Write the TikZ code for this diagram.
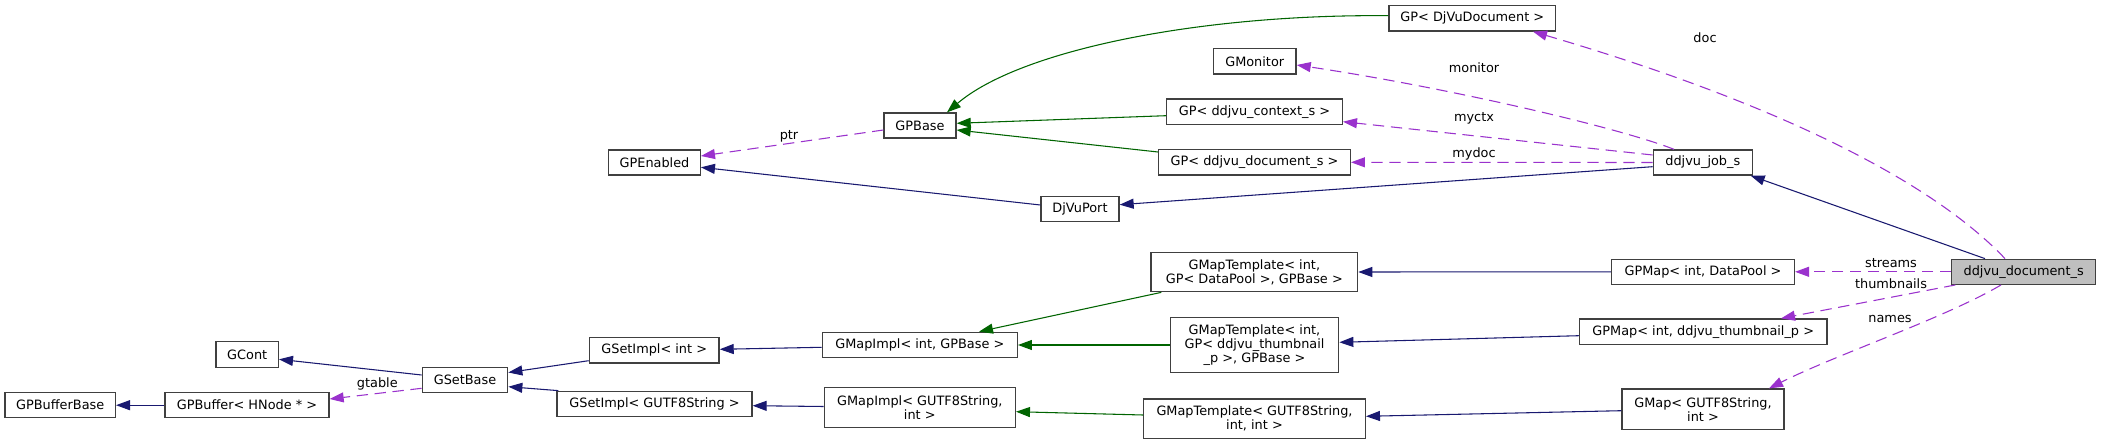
\documentclass[tikz,border=0pt]{standalone}
\usepackage{fontspec}
\setmainfont{DejaVu Sans}
\usetikzlibrary{arrows.meta,calc}
\definecolor{navy}{RGB}{25,25,112}
\definecolor{dgreen}{RGB}{0,100,0}
\definecolor{orchid}{RGB}{154,50,205}
\definecolor{boxc}{RGB}{64,64,64}
\definecolor{selfill}{RGB}{191,191,191}
\begin{document}
\begin{tikzpicture}[x=0.75pt,y=-0.75pt,
  box/.style={draw=boxc, fill=white, line width=1pt, inner sep=0pt, align=center,
    font=\fontsize{9.65}{10.6}\selectfont},
  bw/.style={minimum width=#1*0.75pt},
  bh/.style={minimum height=#1*0.75pt},
  tip/.style={-{Triangle[length=10.5pt,width=7.5pt]}},
  pub/.style={draw=navy, line width=0.8pt, tip},
  prot/.style={draw=dgreen, line width=0.8pt, tip},
  use/.style={draw=orchid, line width=0.8pt, dash pattern=on 8.5pt off 5pt, tip},
  lbl/.style={font=\fontsize{9.65}{10.6}\selectfont, inner sep=0pt}]
\useasboundingbox (0,0) rectangle (2101,445);
\fill[white] (0,0) rectangle (2101,445);

% nodes
\node[box,bw=166.7,bh=25.3] (gpdjvu) at (1472.3,18.3) {GP< DjVuDocument >};
\node[box,bw=82.7,bh=25.3] (gmonitor) at (1254.7,61.3) {GMonitor};
\node[box,bw=175.6,bh=25.3] (gpctx) at (1254.5,111.7) {GP< ddjvu\_context\_s >};
\node[box,bw=72,bh=25] (gpbase) at (920,125.5) {GPBase};
\node[box,bw=91.6,bh=25] (gpenabled) at (654.5,162.5) {GPEnabled};
\node[box,bw=191.6,bh=25.3] (gpdoc) at (1254.5,162.3) {GP< ddjvu\_document\_s >};
\node[box,bw=99,bh=25] (job) at (1702.8,162.5) {ddjvu\_job\_s};
\node[box,bw=78,bh=25] (djvuport) at (1080,209.2) {DjVuPort};
\node[box,bw=206.7,bh=39.4] (gmaptpldp) at (1254.3,272) {GMapTemplate< int,\\ GP< DataPool >, GPBase >};
\node[box,bw=182.8,bh=25] (gpmapdp) at (1703,271.8) {GPMap< int, DataPool >};
\node[box,bw=144,bh=25,fill=selfill] (doc) at (2023.7,271.8) {ddjvu\_document\_s};
\node[box,bw=62.3,bh=25.6] (gcont) at (247.2,354.5) {GCont};
\node[box,bw=129.7,bh=25.3] (gsetimplint) at (654.2,350.3) {GSetImpl< int >};
\node[box,bw=195,bh=25.4] (gmapimplint) at (919.8,345) {GMapImpl< int, GPBase >};
\node[box,bw=168.4,bh=54.6] (gmaptplthumb) at (1254.5,345) {GMapTemplate< int,\\ GP< ddjvu\_thumbnail\\ \_p >, GPBase >};
\node[box,bw=247.6,bh=25.3] (gpmapthumb) at (1703.2,331.7) {GPMap< int, ddjvu\_thumbnail\_p >};
\node[box,bw=85.4,bh=25] (gsetbase) at (465,379.8) {GSetBase};
\node[box,bw=110.3,bh=25] (gpbufferbase) at (60.2,405.2) {GPBufferBase};
\node[box,bw=164,bh=25] (gpbuffer) at (247,405.2) {GPBuffer< HNode * >};
\node[box,bw=195,bh=25] (gsetimplu) at (654.5,403.8) {GSetImpl< GUTF8String >};
\node[box,bw=191,bh=40.4] (gmapimplu) at (919.8,407.5) {GMapImpl< GUTF8String,\\ int >};
\node[box,bw=221.6,bh=39.3] (gmaptplu) at (1254.5,418.7) {GMapTemplate< GUTF8String,\\ int, int >};
\node[box,bw=162,bh=40.3] (gmap) at (1703,409.2) {GMap< GUTF8String,\\ int >};

% inheritance (protected, green)
\draw[prot] ($(gpdjvu.west)+(0,-2.6)$) .. controls (1200,14) and (1020,50) .. ($(gpbase.north)+(27,0)$);
\draw[prot] ($(gpctx.west)+(0,4)$) -- ($(gpbase.east)+(0,-2.2)$);
\draw[prot] ($(gpdoc.west)+(0,-10.3)$) -- ($(gpbase.east)+(0,4.5)$);
\draw[prot] ($(gmaptpldp.south west)+(11,0)$) -- ($(gmapimplint.north)+(59.2,0)$);
\draw[prot] (gmaptplthumb.west) -- (gmapimplint.east);
\draw[prot] ($(gmaptplu.west)+(0,-3.7)$) -- ($(gmapimplu.east)+(0,4.2)$);

% inheritance (public, navy)
\draw[pub] ($(djvuport.west)+(0,-4.2)$) -- ($(gpenabled.east)+(0,4.8)$);
\draw[pub] ($(job.west)+(0,4.2)$) -- ($(djvuport.east)+(0,-4.5)$);
\draw[pub] ($(doc.north)+(-38.7,0)$) -- ($(job.south east)+(-2.3,0)$);
\draw[pub] (gpmapdp.west) -- (gmaptpldp.east);
\draw[pub] ($(gpmapthumb.west)+(0,4)$) -- ($(gmaptplthumb.east)+(0,-2.7)$);
\draw[pub] ($(gmap.west)+(0,1.5)$) -- ($(gmaptplu.east)+(0,-2.4)$);
\draw[pub] ($(gmapimplint.west)+(0,2.3)$) -- ($(gsetimplint.east)+(0,-1)$);
\draw[pub] ($(gmapimplu.west)+(0,-1)$) -- ($(gsetimplu.east)+(0,1.9)$);
\draw[pub] ($(gsetimplint.west)+(0,10.4)$) -- ($(gsetbase.east)+(0,-7.3)$);
\draw[pub] ($(gsetimplu.north west)+(2,0)$) -- ($(gsetbase.east)+(0,6.9)$);
\draw[pub] ($(gsetbase.west)+(0,-4.8)$) -- ($(gcont.east)+(0,4.8)$);
\draw[pub] (gpbuffer.west) -- (gpbufferbase.east);

% usage (dashed, purple)
\draw[use] ($(gpbase.west)+(0,4.5)$) -- ($(gpenabled.east)+(0,-6.5)$);
\draw[use] ($(job.north)+(-28.8,0)$) .. controls (1620,128) and (1450,88) .. ($(gmonitor.east)+(0,3.7)$);
\draw[use] ($(job.west)+(0,-7.5)$) -- ($(gpctx.east)+(0,10)$);
\draw[use] (job.west) -- (gpdoc.east);
\draw[use] ($(doc.north)+(-18.7,0)$) .. controls (1940,190) and (1800,110) .. ($(gpdjvu.south)+(60.7,0)$);
\draw[use] (doc.west) -- (gpmapdp.east);
\draw[use] ($(doc.south west)+(4.3,0)$) -- ($(gpmapthumb.north)+(77.8,0)$);
\draw[use] ($(doc.south)+(-22.7,0)$) .. controls (1945,318) and (1835,355) .. ($(gmap.north)+(66,0)$);
\draw[use] ($(gsetbase.west)+(0,8.5)$) -- ($(gpbuffer.east)+(0,-6.2)$);

% labels
\node[lbl] (lptr) at (789,136) {ptr};
\node[lbl] (lmonitor) at (1474,67.7) {monitor};
\node[lbl] (lmyctx) at (1474,118.7) {myctx};
\node[lbl] (lmydoc) at (1474,154.3) {mydoc};
\node[lbl] (ldoc) at (1705,38) {doc};
\node[lbl] (lstreams) at (1891,263.3) {streams};
\node[lbl] (lthumb) at (1891,283.3) {thumbnails};
\node[lbl] (lnames) at (1890,319) {names};
\node[lbl] (lgtable) at (377.3,384) {gtable};
\end{tikzpicture}
\end{document}
